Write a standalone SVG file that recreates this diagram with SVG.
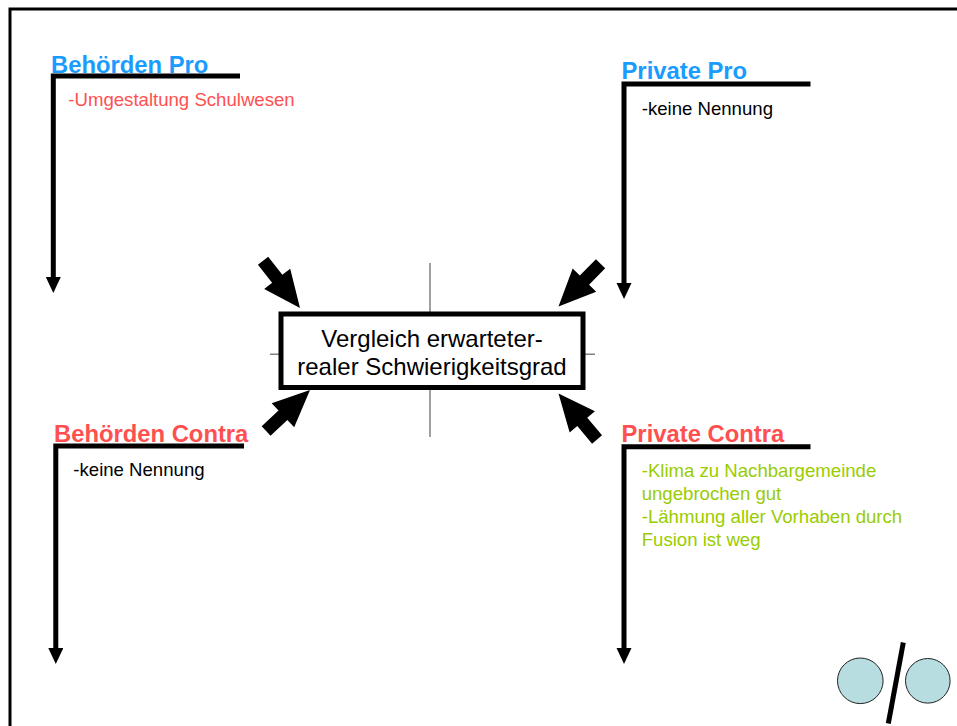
<svg xmlns="http://www.w3.org/2000/svg" xmlns:xlink="http://www.w3.org/1999/xlink" width="957" height="726" viewBox="0 0 957 726">
<style>
.title{font-family:"Liberation Sans",Arial,sans-serif;font-size:23.8px;font-weight:bold}
.body{font-family:"Liberation Sans",Arial,sans-serif;font-size:18.6px}
.blue{fill:#1a9cff}
.red{fill:#ff5050}
.black{fill:#000}
.green{fill:#99cc00}
.lline{fill:none;stroke:#000;stroke-width:5;stroke-linejoin:miter;marker-end:url(#ah)}
.cross{stroke:#808080;stroke-width:1.5}
.center{font-family:"Liberation Sans",Arial,sans-serif;font-size:24px;fill:#000}
</style>
<defs>
<marker id="ah" markerUnits="userSpaceOnUse" markerWidth="16" markerHeight="16" viewBox="0 0 16 16" refX="0" refY="7.5" orient="auto">
<path d="M0,0 L16,7.5 L0,15 Z" fill="#000"/>
</marker>
<path id="blk" d="M0,0 L-37,-16.5 L-37,-6.5 L-60,-6.5 L-60,6.5 L-37,6.5 L-37,16.5 Z" fill="#000"/>
</defs>
<rect x="10" y="9" width="970" height="740" fill="#fff" stroke="#000" stroke-width="3"/>

<g id="connectors">
<path class="lline" d="M240,76 H53.3 V277"/>
<path class="lline" d="M810.5,84 H624 V283"/>
<path class="lline" d="M244,446 H55.8 V648"/>
<path class="lline" d="M810.5,446.7 H624 V648"/>
<use xlink:href="#blk" href="#blk" transform="translate(300,308) rotate(52)"/>
<use xlink:href="#blk" href="#blk" transform="translate(558.5,306.5) rotate(134.5)"/>
<use xlink:href="#blk" href="#blk" transform="translate(310,390) rotate(-43)"/>
<use xlink:href="#blk" href="#blk" transform="translate(558.5,393.5) rotate(-130)"/>
</g>

<g id="behoerden-pro">
<text class="title blue" x="51" y="72.7">Behörden Pro</text>
<text class="body red" x="68.3" y="106">-Umgestaltung Schulwesen</text>
</g>

<g id="private-pro">
<text class="title blue" x="621.5" y="78.5">Private Pro</text>
<text class="body black" x="641.7" y="115">-keine Nennung</text>
</g>

<g id="behoerden-contra">
<text class="title red" x="54" y="442">Behörden Contra</text>
<text class="body black" x="73.3" y="475.7">-keine Nennung</text>
</g>

<g id="private-contra">
<text class="title red" x="621.5" y="442.3">Private Contra</text>
<text class="body green" x="641.7" y="476.7">-Klima zu Nachbargemeinde</text>
<text class="body green" x="641.7" y="500">ungebrochen gut</text>
<text class="body green" x="641.7" y="522.7">-Lähmung aller Vorhaben durch</text>
<text class="body green" x="641.7" y="546">Fusion ist weg</text>
</g>

<g id="center">
<line class="cross" x1="430" y1="263" x2="430" y2="437"/>
<line class="cross" x1="270" y1="354.3" x2="595" y2="354.3"/>
<rect x="281" y="314" width="302" height="73.5" fill="#fff" stroke="#000" stroke-width="5"/>
<text class="center" x="432" y="346.7" text-anchor="middle">Vergleich erwarteter-</text>
<text class="center" x="432" y="375" text-anchor="middle">realer Schwierigkeitsgrad</text>
</g>

<g id="logo">
<circle cx="860.3" cy="680.8" r="22.8" fill="#b7dde1" stroke="#222" stroke-width="1"/>
<circle cx="927.8" cy="680.8" r="22.3" fill="#b7dde1" stroke="#222" stroke-width="1"/>
<line x1="903.3" y1="642.5" x2="888.3" y2="723.5" stroke="#000" stroke-width="5"/>
</g>
</svg>
